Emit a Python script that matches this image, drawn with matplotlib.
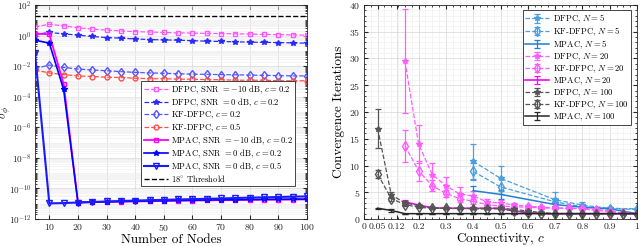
import numpy as np
import matplotlib
matplotlib.use('Agg')
import matplotlib.pyplot as plt
from matplotlib.ticker import FixedLocator, MultipleLocator, LogLocator, NullFormatter

plt.rcParams['font.family'] = 'serif'
plt.rcParams['font.serif'] = ['cmr10', 'DejaVu Serif']
plt.rcParams['mathtext.fontset'] = 'cm'
plt.rcParams['axes.unicode_minus'] = False
plt.rcParams['axes.formatter.use_mathtext'] = True

# ---- left panel: sigma_phi vs number of nodes ----
nodes = [5, 10, 15, 20, 25, 30, 35, 40, 45, 50, 55, 60, 65, 70, 75, 80, 85, 90, 95, 100]

dfpc_m10 = [3.7, 5.5, 4.3, 3.3, 2.6, 2.3, 2.0, 1.8, 1.7, 1.6, 1.5, 1.45, 1.4, 1.35, 1.3,
            1.25, 1.2, 1.15, 1.1, 1.07]
dfpc_0 = [1.2, 1.6, 1.3, 1.07, 0.87, 0.74, 0.68, 0.6, 0.55, 0.52, 0.5, 0.46, 0.43, 0.41,
          0.39, 0.37, 0.36, 0.35, 0.33, 0.32]
kf_c02 = [0.007, 0.0118, 0.0083, 0.0065, 0.0056, 0.005, 0.0044, 0.0039, 0.0036, 0.0034,
          0.0032, 0.003, 0.0029, 0.0028, 0.0027, 0.0026, 0.0025, 0.0024, 0.0023, 0.0023]
kf_c05 = [0.0056, 0.0036, 0.0028, 0.0023, 0.0021, 0.0019, 0.0018, 0.0016, 0.0015, 0.0015,
          0.0014, 0.0014, 0.0013, 0.0013, 0.0012, 0.0012, 0.0012, 0.0011, 0.0011, 0.0011]
mpac_m10 = [1.35, 1.2, 7e-4, 1.2e-11, 1.25e-11, 1.3e-11, 1.35e-11, 1.4e-11, 1.45e-11, 1.5e-11,
            1.55e-11, 1.6e-11, 1.65e-11, 1.7e-11, 1.72e-11, 1.75e-11, 1.8e-11, 1.82e-11,
            1.85e-11, 1.9e-11]
mpac_0_c02 = [0.5, 0.32, 3e-4, 1.2e-11, 1.28e-11, 1.35e-11, 1.4e-11, 1.47e-11, 1.53e-11, 1.6e-11,
              1.65e-11, 1.7e-11, 1.75e-11, 1.8e-11, 1.85e-11, 1.9e-11, 1.93e-11, 1.96e-11,
              2.0e-11, 2.0e-11]
mpac_0_c05 = [0.07, 1.05e-11, 1.1e-11, 1.2e-11, 1.3e-11, 1.4e-11, 1.5e-11, 1.6e-11, 1.7e-11,
              1.8e-11, 1.9e-11, 2.0e-11, 2.1e-11, 2.2e-11, 2.35e-11, 2.5e-11, 2.6e-11, 2.75e-11,
              2.9e-11, 3.0e-11]
threshold = 18

# ---- right panel: convergence iterations vs connectivity ----
c_n5 = [0.4, 0.5, 0.7, 0.8, 0.9, 1.0]
dfpc_n5 = [10.8, 7.6, 3.6, 2.6, 2.0, 1.9]
dfpc_n5_err = [3.3, 2.3, 1.4, 0.5, 0.2, 0.1]
kf_n5 = [8.9, 6.0, 3.2, 2.3, 1.9, 1.8]
kf_n5_err = [1.6, 1.4, 0.8, 0.4, 0.2, 0.1]
mpac_n5 = [5.3, 4.6, 2.7, 2.2, 1.9, 1.0]
mpac_n5_err = [0.9, 0.8, 0.3, 0.2, 0.1, 0.0]

c_n20 = [0.15, 0.2, 0.25, 0.3, 0.35, 0.4, 0.45, 0.5, 0.55, 0.6, 0.65, 0.7, 0.75, 0.8, 0.85,
         0.9, 0.95, 1.0]
dfpc_n20 = [29.5, 14.0, 8.3, 6.2, 4.7, 4.3, 3.2, 3.0, 2.6, 2.4, 2.2, 2.1, 2.0, 2.0, 1.8, 1.5,
            1.1, 1.0]
dfpc_n20_err = [9.7, 3.6, 2.1, 1.6, 1.2, 1.0, 0.6, 0.5, 0.4, 0.3, 0.3, 0.2, 0.2, 0.2, 0.2, 0.2,
                0.1, 0.0]
kf_n20 = [13.7, 9.0, 6.2, 4.8, 3.8, 3.3, 2.7, 2.4, 2.3, 2.2, 2.1, 2.0, 2.0, 1.9, 1.6, 1.4, 1.1,
          1.0]
kf_n20_err = [3.0, 1.9, 1.0, 0.7, 0.6, 0.5, 0.4, 0.3, 0.3, 0.2, 0.2, 0.2, 0.2, 0.2, 0.2, 0.2,
              0.1, 0.0]
mpac_n20 = [3.2, 2.6, 2.1, 2.0, 2.0, 2.0, 2.0, 2.0, 1.5, 1.2, 1.0, 1.0, 1.0, 1.0, 1.0, 1.0, 1.0,
            1.0]
mpac_n20_err = [0.3, 0.2, 0.1, 0.1, 0.1, 0.1, 0.1, 0.1, 0.3, 0.3, 0.0, 0.0, 0.0, 0.0, 0.0, 0.0,
                0.0, 0.0]

c_n100 = [0.05, 0.1, 0.15, 0.2, 0.25, 0.3, 0.35, 0.4, 0.45, 0.5, 0.55, 0.6, 0.65, 0.7, 0.75,
          0.8, 0.85, 0.9, 0.95, 1.0]
dfpc_n100 = [16.9, 4.5, 3.0, 2.5, 2.1, 2.0, 2.0, 2.0, 2.0, 2.0, 1.8, 1.5, 1.2, 1.0, 1.0, 1.0,
             1.0, 1.0, 1.0, 1.0]
dfpc_n100_err = [3.6, 0.5, 0.3, 0.2, 0.1, 0.1, 0.1, 0.1, 0.1, 0.1, 0.3, 0.3, 0.3, 0.1, 0.1,
                 0.1, 0.1, 0.0, 0.0, 0.0]
kf_n100 = [8.4, 3.8, 2.7, 2.2, 2.0, 2.0, 2.0, 1.9, 1.9, 1.9, 1.5, 1.2, 1.0, 1.0, 1.0, 1.0, 1.0,
           1.0, 1.0, 1.0]
kf_n100_err = [0.8, 0.4, 0.3, 0.2, 0.1, 0.1, 0.1, 0.1, 0.1, 0.1, 0.3, 0.3, 0.1, 0.1, 0.1, 0.1,
               0.1, 0.0, 0.0, 0.0]
mpac_n100 = [2.0, 1.6, 1.0, 1.0, 1.0, 1.0, 1.0, 1.0, 1.0, 1.0, 1.0, 1.0, 1.0, 1.0, 1.0, 1.0, 1.0,
             1.0, 1.0, 1.0]
mpac_n100_err = [0.1, 0.2, 0.0, 0.0, 0.0, 0.0, 0.0, 0.0, 0.0, 0.0, 0.0, 0.0, 0.0, 0.0, 0.0, 0.0,
                 0.0, 0.0, 0.0, 0.0]

c_ticks = [0, 0.05, 0.12, 0.2, 0.3, 0.4, 0.5, 0.6, 0.7, 0.8, 0.9, 1]
c_ticklabels = ['0', '0.05', '0.12', '0.2', '0.3', '0.4', '0.5', '0.6', '0.7', '0.8', '0.9', '1']

AX_COL = '#262626'


def style_axes(ax):
    for s in ax.spines.values():
        s.set_color(AX_COL)
        s.set_linewidth(0.6)
    ax.tick_params(which='both', direction='in', top=True, right=True, colors=AX_COL,
                   labelsize=7, pad=2.5)
    ax.tick_params(which='major', length=3)
    ax.tick_params(which='minor', length=1.5)
    ax.grid(True, which='major', color='#d6d6d6', lw=0.5)
    ax.grid(True, which='minor', color='#ededed', lw=0.4)
    ax.set_axisbelow(True)


def style_legend(leg):
    leg.get_frame().set_linewidth(0.6)


leg_kw = dict(fontsize=6.2, fancybox=False, edgecolor=AX_COL, framealpha=1, borderpad=0.25,
              labelspacing=0.06, handlelength=2.8, handletextpad=0.4, borderaxespad=0)

fig = plt.figure(figsize=(6.4, 2.46), dpi=100)

# left
ax1 = fig.add_axes([35 / 640, 27 / 246, 272 / 640, 214 / 246])
style_axes(ax1)
ax1.set_yscale('log')
ax1.plot(nodes, dfpc_m10, '--s', color='#ff55ff', mfc='none', ms=3.5, lw=0.9,
         label=r'DFPC, SNR $= -10$ dB, $c = 0.2$')
ax1.plot(nodes, dfpc_0, '--*', color='#2a2aff', ms=4, lw=0.9,
         label=r'DFPC, SNR $= 0$ dB, $c = 0.2$')
ax1.plot(nodes, kf_c02, '--d', color='#5555ff', mfc='none', ms=4.5, lw=0.9,
         label=r'KF-DFPC, $c = 0.2$')
ax1.plot(nodes, kf_c05, '--o', color='#ff4d4d', mfc='none', ms=3.5, lw=0.9,
         label=r'KF-DFPC, $c = 0.5$')
ax1.plot(nodes, mpac_m10, '-s', color='#ff00ff', mfc='none', ms=3.5, lw=1.3,
         label=r'MPAC, SNR $= -10$ dB, $c = 0.2$')
ax1.plot(nodes, mpac_0_c02, '-*', color='#0000ff', ms=4, lw=1.2,
         label=r'MPAC, SNR $= 0$ dB, $c = 0.2$')
ax1.plot(nodes, mpac_0_c05, '-v', color='#1a1aff', mfc='none', ms=4, lw=1.5,
         label=r'MPAC, SNR $= 0$ dB, $c = 0.5$')
ax1.axhline(threshold, color='k', ls='--', lw=1.0, label=r'18$^{\circ}$ Threshold')

ax1.set_xlim(5, 100)
ax1.set_ylim(1e-12, 1e2)
ax1.set_xticks(range(10, 101, 10))
ax1.set_xticklabels([r'$\mathsf{%d}$' % v for v in range(10, 101, 10)])
yt = [10.0 ** e for e in range(-12, 3, 2)]
ax1.yaxis.set_major_locator(FixedLocator(yt))
ax1.set_yticklabels([r'$\mathsf{10^{%d}}$' % e for e in range(-12, 3, 2)])
ax1.tick_params(axis='y', labelsize=6.6)
ax1.yaxis.set_minor_locator(LogLocator(base=10, subs=np.arange(1, 10), numticks=100))
ax1.yaxis.set_minor_formatter(NullFormatter())
ax1.set_xlabel('Number of Nodes', fontsize=9.5, labelpad=0)
ax1.set_ylabel(r'$\sigma_{\phi}$', fontsize=8.5)
ax1.yaxis.set_label_coords(-0.08, 0.5)
style_legend(ax1.legend(loc='lower right', bbox_to_anchor=(0.956, 0.153), **leg_kw))

# right
ax2 = fig.add_axes([364 / 640, 27 / 246, 273 / 640, 214 / 246])
style_axes(ax2)
eb = dict(capsize=2, elinewidth=0.9, capthick=0.9)
ax2.errorbar(c_n5, dfpc_n5, yerr=dfpc_n5_err, fmt='--*', color='#4a9fe0', ms=4, lw=0.9,
             label=r'DFPC, $N = 5$', **eb)
ax2.errorbar(c_n5, kf_n5, yerr=kf_n5_err, fmt='--d', color='#4a9fe0', mfc='none', ms=5,
             lw=0.9, label=r'KF-DFPC, $N = 5$', **eb)
ax2.errorbar(c_n5, mpac_n5, yerr=mpac_n5_err, fmt='-', color='#1f7fd0', lw=1.1,
             label=r'MPAC, $N = 5$', **eb)
ax2.errorbar(c_n20, dfpc_n20, yerr=dfpc_n20_err, fmt='--*', color='#ff5cff', ms=4, lw=0.9,
             label=r'DFPC, $N = 20$', **eb)
ax2.errorbar(c_n20, kf_n20, yerr=kf_n20_err, fmt='--d', color='#ff5cff', mfc='none', ms=5,
             lw=0.9, label=r'KF-DFPC, $N = 20$', **eb)
ax2.errorbar(c_n20, mpac_n20, yerr=mpac_n20_err, fmt='-', color='#ff00ff', lw=1.2,
             label=r'MPAC, $N = 20$', **eb)
ax2.errorbar(c_n100, dfpc_n100, yerr=dfpc_n100_err, fmt='--*', color='#555555', ms=4, lw=0.9,
             label=r'DFPC, $N = 100$', **eb)
ax2.errorbar(c_n100, kf_n100, yerr=kf_n100_err, fmt='--d', color='#555555', mfc='none', ms=5,
             lw=0.9, label=r'KF-DFPC, $N = 100$', **eb)
ax2.errorbar(c_n100, mpac_n100, yerr=mpac_n100_err, fmt='-', color='#262626', lw=1.1,
             label=r'MPAC, $N = 100$', **eb)

ax2.set_xlim(0, 1)
ax2.set_ylim(0, 40)
ax2.set_xticks(c_ticks)
ax2.set_xticklabels(c_ticklabels)
ax2.set_yticks(range(0, 41, 5))
ax2.xaxis.set_minor_locator(MultipleLocator(0.025))
ax2.yaxis.set_minor_locator(MultipleLocator(1))
ax2.set_xlabel(r'Connectivity, $c$', fontsize=9.5, labelpad=0)
ax2.set_ylabel('Convergence Iterations', fontsize=9.5, labelpad=3)
style_legend(ax2.legend(loc='upper right', bbox_to_anchor=(0.977, 0.975), **leg_kw))

fig.savefig('out.png', dpi=100)
